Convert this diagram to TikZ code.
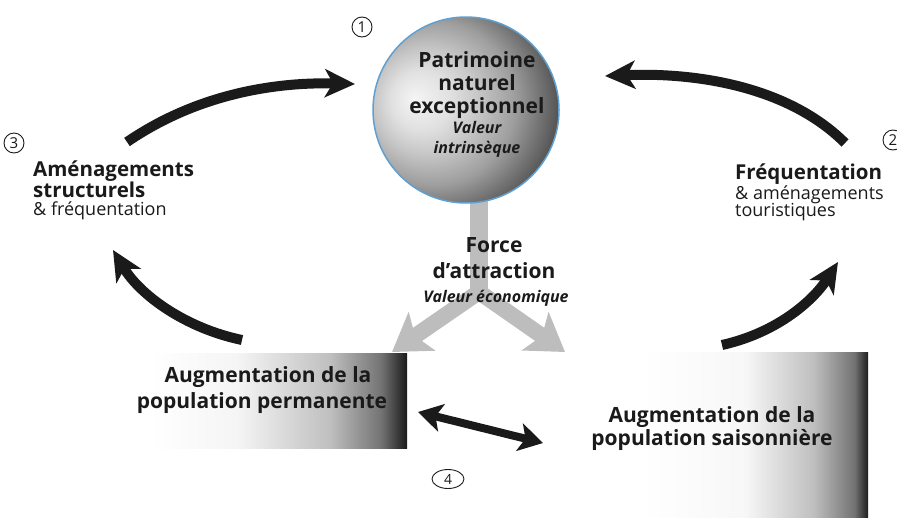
\documentclass[tikz,border=0pt]{standalone}
\usepackage{fontspec}
\setmainfont{Open Sans}
\usetikzlibrary{arrows.meta,shapes.geometric}
\definecolor{ringblue}{HTML}{5FA0D0}
\definecolor{ygray}{HTML}{BDBDBD}
\definecolor{ink}{HTML}{1A1A1A}
\pgfdeclareradialshading{orb}{\pgfpoint{-14bp}{3bp}}{color(0bp)=(black!4); color(8bp)=(black!12); color(14bp)=(black!22); color(22bp)=(black!38); color(30bp)=(black!62); color(36bp)=(black!82); color(40bp)=(black!90); color(60bp)=(black!90)}
\pgfdeclarehorizontalshading{lboxsh}{100bp}{color(0bp)=(white); color(25bp)=(white); color(42bp)=(black!4); color(60bp)=(black!25); color(70bp)=(black!55); color(75bp)=(black!90); color(100bp)=(black!90)}
\pgfdeclarehorizontalshading{rboxsh}{100bp}{color(0bp)=(white); color(25bp)=(white); color(48bp)=(black!3); color(63bp)=(black!25); color(72bp)=(black!55); color(75bp)=(black!88); color(100bp)=(black!88)}
\newcommand\fPat{\fontsize{21}{21}\selectfont\bfseries}
\newcommand\fPatIt{\fontsize{16}{16}\selectfont\bfseries\itshape}
\newcommand\fLab{\fontsize{20.5}{20.5}\selectfont\bfseries}
\newcommand\fReg{\fontsize{18}{18}\selectfont}
\newcommand\fBox{\fontsize{21}{21}\selectfont\bfseries}
\begin{document}
\begin{tikzpicture}[x=1pt,y=-1pt,
  txt/.style={inner sep=0pt, text=ink},
  blackarrow/.style={draw=ink, line width=10pt, -{Stealth[length=30pt,width=28pt,inset=8pt]}},
  dblarrow/.style={draw=ink, line width=8pt, {Stealth[length=24pt,width=28pt,inset=6pt]}-{Stealth[length=24pt,width=28pt,inset=6pt]}},
  ystem/.style={draw=ygray, line width=18pt},
  ybranch/.style={draw=ygray, line width=16pt, -{Stealth[length=36pt,width=46pt,inset=8pt]}},
  numc/.style={circle, draw=ink, line width=0.9pt, inner sep=0pt, minimum size=20pt, font=\fontsize{15}{15}\selectfont, text=ink}
]
\useasboundingbox (0,0) rectangle (897,517);
% gray Y
\coordinate (ytop) at (479,195);
\coordinate (ysplit) at (479,300);
\coordinate (ysplitb) at (479,292);
\coordinate (yl) at (392,352);
\coordinate (yr) at (565,352);
\draw[ystem] (ytop) -- (ysplit);
\draw[ybranch] (ysplitb) -- (yl);
\draw[ybranch] (ysplitb) -- (yr);
% circle
\node[circle, minimum size=186pt, inner sep=0pt, shading=orb, draw=ringblue, line width=1.5pt] (patr) at (466,110) {};
\node[txt, anchor=base, font=\fPat] (p1) at (477,67) {Patrimoine};
\node[txt, anchor=base, font=\fPat] (p2) at (477,90) {naturel};
\node[txt, anchor=base, font=\fPat] (p3) at (477,113) {exceptionnel};
\node[txt, anchor=base, font=\fPatIt] (p4) at (477,133) {Valeur};
\node[txt, anchor=base, font=\fPatIt] (p5) at (477,153) {intrinsèque};
% force
\node[txt, anchor=base, font=\fPat] (f1) at (494,252) {Force};
\node[txt, anchor=base, font=\fPat] (f2) at (494,278) {d’attraction};
\node[txt, anchor=base, font=\fPatIt] (f3) at (496,302) {Valeur économique};
% boxes
\node[minimum width=257pt, minimum height=95pt, inner sep=0pt, shading=lboxsh] (perm) at (278.5,400.5) {};
\node[minimum width=228pt, minimum height=178pt, inner sep=0pt, shading=rboxsh] (sais) at (754,441) {};
\node[txt, anchor=base, font=\fBox] (b1) at (268,382) {Augmentation de la};
\node[txt, anchor=base, font=\fBox] (b2) at (262,408) {population permanente};
\node[txt, anchor=base, font=\fBox] (b3) at (712,422) {Augmentation de la};
\node[txt, anchor=base, font=\fBox] (b4) at (712,445) {population saisonnière};
% side labels
\node[txt, anchor=base west, font=\fLab] (l1) at (33,176) {Aménagements};
\node[txt, anchor=base west, font=\fLab] (l2) at (33,197) {structurels};
\node[txt, anchor=base west, font=\fReg] (l3) at (33,215) {\& fréquentation};
\node[txt, anchor=base west, font=\fLab] (r1) at (735,179) {Fréquentation};
\node[txt, anchor=base west, font=\fReg] (r2) at (735,199) {\& aménagements};
\node[txt, anchor=base west, font=\fReg] (r3) at (735,216) {touristiques};
% numbers
\node[numc] (n1) at (362,27) {1};
\node[numc] (n2) at (893,140) {2};
\node[numc] (n3) at (14,143) {3};
\node[ellipse, draw=ink, line width=0.9pt, inner sep=0pt, minimum width=32pt, minimum height=19pt, font=\fontsize{14}{14}\selectfont, text=ink] (n4) at (448,479) {4};
% black arrows
\coordinate (a1s) at (127,142);
\coordinate (a1e) at (355,84);
\coordinate (a2s) at (845,143);
\coordinate (a2e) at (605,76);
\coordinate (a3s) at (242,340);
\coordinate (a3e) at (113,250);
\coordinate (a4s) at (722,345);
\coordinate (a4e) at (838,262);
\coordinate (d1) at (418,412);
\coordinate (d2) at (543,443);
\draw[blackarrow] (a1s) .. controls (200,92) and (280,82) .. (a1e);
\draw[blackarrow] (a2s) .. controls (790,88) and (700,72) .. (a2e);
\draw[blackarrow] (a3s) .. controls (185,328) and (140,295) .. (a3e);
\draw[blackarrow] (a4s) .. controls (780,332) and (815,298) .. (a4e);
\draw[dblarrow] (d1) -- (d2);
\end{tikzpicture}
\end{document}
